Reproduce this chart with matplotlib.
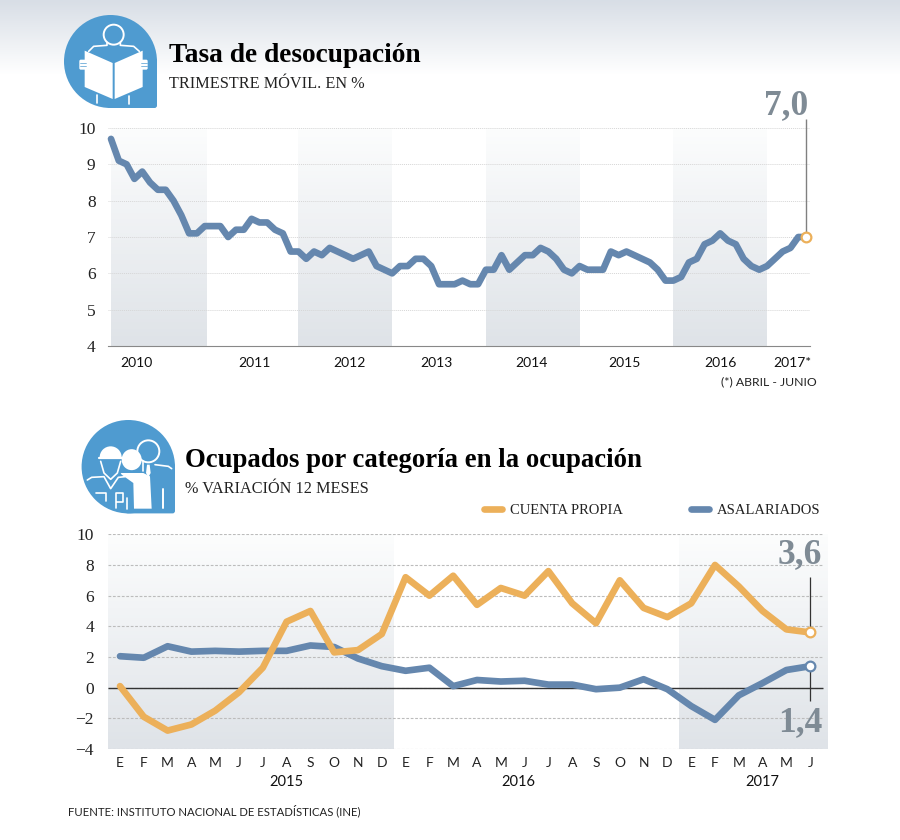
import numpy as np
import matplotlib
matplotlib.use('Agg')
import matplotlib.pyplot as plt
from matplotlib.patches import Circle, Ellipse, FancyBboxPatch, Polygon, Wedge

# tasa de desocupacion, ene 2010 - jun 2017
desocupacion = [
    9.7, 9.1, 9.0, 8.6, 8.8, 8.5, 8.3, 8.3, 8.0, 7.6, 7.1, 7.1,
    7.3, 7.3, 7.3, 7.0, 7.2, 7.2, 7.5, 7.4, 7.4, 7.2, 7.1, 6.6,
    6.6, 6.4, 6.6, 6.5, 6.7, 6.6, 6.5, 6.4, 6.5, 6.6, 6.2, 6.1,
    6.0, 6.2, 6.2, 6.4, 6.4, 6.2, 5.7, 5.7, 5.7, 5.8, 5.7, 5.7,
    6.1, 6.1, 6.5, 6.1, 6.3, 6.5, 6.5, 6.7, 6.6, 6.4, 6.1, 6.0,
    6.2, 6.1, 6.1, 6.1, 6.6, 6.5, 6.6, 6.5, 6.4, 6.3, 6.1, 5.8,
    5.8, 5.9, 6.3, 6.4, 6.8, 6.9, 7.1, 6.9, 6.8, 6.4, 6.2, 6.1,
    6.2, 6.4, 6.6, 6.7, 7.0, 7.0,
]
anios_top = ['2010', '2011', '2012', '2013', '2014', '2015', '2016', '2017*']

# ocupados, ene 2015 - jun 2017
cuenta_propia = [
    0.1, -1.9, -2.8, -2.4, -1.5, -0.3, 1.3, 4.3, 5.0, 2.3, 2.45, 3.5,
    7.2, 6.0, 7.3, 5.4, 6.5, 6.0, 7.6, 5.5, 4.2, 7.0, 5.2, 4.6,
    5.5, 8.0, 6.6, 5.0, 3.8, 3.6,
]
asalariados = [
    2.05, 1.95, 2.7, 2.35, 2.4, 2.35, 2.4, 2.4, 2.75, 2.65, 1.9, 1.4,
    1.1, 1.3, 0.1, 0.5, 0.4, 0.45, 0.2, 0.2, -0.1, 0.0, 0.55, -0.1,
    -1.2, -2.1, -0.5, 0.3, 1.15, 1.4,
]
meses = list('EFMAMJJASOND') * 2 + list('EFMAMJ')
anios_bottom = ['2015', '2016', '2017']

AZUL = '#6587ae'
NARANJA = '#ecb05a'
GRIS = '#7f8b95'
ICONO = '#4f9bd0'
SERIF = 'Liberation Serif'
SANS = 'Lato'
W, H = 900, 840


def px_axes(fig, x0, x1, y0, y1):
    # y0 is the top edge, in picture pixels
    ax = fig.add_axes([x0 / W, 1 - y1 / H, (x1 - x0) / W, (y1 - y0) / H])
    ax.patch.set_alpha(0)
    return ax


def shade(ax, x0, x1, y0, y1):
    grad = np.linspace(0, 1, 64).reshape(-1, 1)
    cmap = matplotlib.colors.LinearSegmentedColormap.from_list('s', ['#fcfdfd', '#dfe3e8'])
    ax.imshow(grad, extent=(x0, x1, y0, y1), origin='upper',
              aspect='auto', cmap=cmap, zorder=0)


def teardrop(ax, cx, cy, r):
    ax.add_patch(Circle((cx, cy), r, color=ICONO, lw=0))
    ax.add_patch(FancyBboxPatch((cx - 3, cy - 3), r + 3, r + 3, boxstyle='round,pad=0,rounding_size=2.5',
                                color=ICONO, lw=0))


def icono_lector(ax):
    teardrop(ax, 110.5, 61.5, 46.5)

    def p(zx, zy):
        return 62 + zx / 3, 13 + zy / 3

    def linea(puntos, lw=1.2, color='white'):
        xs, ys = zip(*[p(*q) for q in puntos])
        ax.plot(xs, ys, color=color, lw=lw, solid_capstyle='round')

    ax.add_patch(Circle(p(155, 65), 10, fc='none', ec='white', lw=1.4))
    linea([(135, 88), (135, 97), (95, 100), (80, 115)])
    linea([(175, 88), (175, 97), (215, 100), (232, 115)])
    ax.add_patch(Polygon([p(68, 113), p(152, 150), p(152, 258), p(68, 222)], color='white', lw=0))
    ax.add_patch(Polygon([p(158, 150), p(242, 113), p(242, 222), p(158, 258)], color='white', lw=0))
    for zx in (52, 236):
        ax.add_patch(FancyBboxPatch(p(zx, 140), 7, 10, boxstyle='round,pad=0,rounding_size=1.5', color='white', lw=0))
        for zy in (149, 160):
            linea([(zx + 1, zy), (zx + 20, zy)], lw=0.5, color=ICONO)
    linea([(105, 245), (105, 270)])
    linea([(200, 248), (200, 272)])


def icono_ocupados(ax):
    teardrop(ax, 128.3, 466.7, 46.7)

    def p(zx, zy):
        return 80 + zx / 3, 418 + zy / 3

    def linea(puntos, lw=1.2):
        xs, ys = zip(*[p(*q) for q in puntos])
        ax.plot(xs, ys, color='white', lw=lw, solid_capstyle='round')

    # persona de atras
    ax.add_patch(Circle(p(205, 100), 11, fc='none', ec='white', lw=1.4))
    linea([(190, 130), (190, 160)])
    linea([(225, 140), (265, 145), (275, 152)])
    ax.add_patch(Polygon([p(201, 140), p(209, 140), p(212, 165), p(205, 178), p(198, 165)], color='white', lw=0))
    linea([(250, 212), (250, 270)], lw=1.4)
    # obrero con casco
    ax.add_patch(Wedge(p(92, 118), 11, 180, 360, color='white', lw=0))
    linea([(57, 121), (127, 121)], lw=1.6)
    linea([(62, 130), (72, 165), (92, 184), (112, 165), (122, 130)])
    linea([(22, 186), (35, 178), (72, 176), (92, 212), (115, 178), (135, 176)])
    linea([(48, 224), (78, 224), (78, 250)])
    linea([(108, 270), (108, 224), (130, 224), (130, 252), (112, 252)])
    linea([(140, 240), (140, 272)])
    # mujer
    ax.add_patch(Ellipse(p(155, 125), 20, 21, color='white', lw=0))
    ax.add_patch(Polygon([p(122, 165), p(190, 165), p(210, 175), p(215, 272), p(162, 272), p(160, 195), p(125, 170)],
                         color='white', lw=0))


def main():
    fig = plt.figure(figsize=(W / 100, H / 100), dpi=100, facecolor='white')

    # fondo, iconos y titulos en pixeles
    bg = fig.add_axes([0, 0, 1, 1])
    cmap = matplotlib.colors.LinearSegmentedColormap.from_list('b', ['#d8dee6', '#ffffff'])
    bg.imshow(np.linspace(0, 1, 64).reshape(-1, 1), extent=(0, W, 75, 0), aspect='auto', cmap=cmap, zorder=0)
    bg.set_xlim(0, W)
    bg.set_ylim(H, 0)
    bg.axis('off')
    icono_lector(bg)
    icono_ocupados(bg)

    bg.text(169, 62, 'Tasa de desocupación', family=SERIF, weight='bold', fontsize=19.7, color='black')
    bg.text(169, 88, 'TRIMESTRE MÓVIL. EN %', family=SERIF, fontsize=11.7, color='#222222')
    bg.text(185, 467, 'Ocupados por categoría en la ocupación', family=SERIF, weight='bold', fontsize=19.3, color='black')
    bg.text(185, 493, '% VARIACIÓN 12 MESES', family=SERIF, fontsize=11.7, color='#222222')
    bg.text(817, 385, '(*) ABRIL - JUNIO', family=SANS, fontsize=8.8, ha='right', color='#222222')
    bg.text(68, 815, 'FUENTE: INSTITUTO NACIONAL DE ESTADÍSTICAS (INE)', family=SANS, fontsize=8.2, color='#222222')

    # grafico de arriba
    ax = px_axes(fig, 108, 810, 128, 346)
    paso = 7.81
    x = np.arange(len(desocupacion))
    xlim = ((108 - 111) / paso, (810 - 111) / paso)
    for a, b in [(0, 12.2), (24, 36), (48, 60), (72, 84)]:
        shade(ax, a, b, 4, 10)
    ax.set_yticks(range(4, 11))
    ax.grid(axis='y', color='#d6d6d6', lw=0.7, ls=(0, (1, 1)), zorder=1)
    ax.set_axisbelow(True)
    ax.plot(x, desocupacion, color=AZUL, lw=4.8, solid_joinstyle='round', solid_capstyle='round', zorder=3, clip_on=False)
    ax.set_xlim(xlim)
    ax.set_ylim(4, 10)
    ax.set_xticks([3.3, 18.4, 30.5, 41.7, 53.8, 65.8, 78, 87.3])
    ax.set_xticklabels(anios_top, family=SANS, fontsize=10, color='#111111')
    ax.tick_params(length=0)
    ax.tick_params(axis='x', pad=8)
    ax.tick_params(axis='y', pad=9)
    for t in ax.get_yticklabels():
        t.set_family(SERIF)
        t.set_fontsize(12.5)
        t.set_color('#222222')
    for s in ('top', 'left', 'right'):
        ax.spines[s].set_visible(False)
    ax.spines['bottom'].set_color('#888888')

    ax.vlines(x[-1], desocupacion[-1], 10.25, color='#808080', lw=1, zorder=4, clip_on=False)
    ax.plot(x[-1], desocupacion[-1], 'o', ms=7, mfc='white', mec=NARANJA, mew=1.6, zorder=5, clip_on=False)
    ax.text(89.25, 10.38, '7,0', family=SERIF, weight='bold', fontsize=25.5, color=GRIS, ha='right', va='baseline')

    # grafico de abajo
    ax2 = px_axes(fig, 108, 828, 534.3, 749)
    paso2 = 23.8
    x2 = np.arange(len(meses))
    xlim2 = ((108 - 120) / paso2, (828 - 120) / paso2)
    for a, b in [(xlim2[0], 11.5), (23.5, xlim2[1])]:
        shade(ax2, a, b, -4, 10)
    fin_grid = (823 - 120) / paso2
    ax2.hlines(range(-4, 11, 2), xlim2[0], fin_grid, color='#bcbcbc', lw=0.8, ls=(0, (2.5, 1.5)), zorder=1)
    ax2.hlines(0, xlim2[0], fin_grid, color='#333333', lw=1, zorder=2)
    l_a, = ax2.plot(x2, asalariados, color=AZUL, lw=4.8, solid_joinstyle='round', solid_capstyle='round', zorder=3, label='ASALARIADOS')
    l_c, = ax2.plot(x2, cuenta_propia, color=NARANJA, lw=4.8, solid_joinstyle='round', solid_capstyle='round', zorder=3.5, label='CUENTA PROPIA')
    ax2.set_xlim(xlim2)
    ax2.set_ylim(-4, 10)
    ax2.set_yticks(range(-4, 11, 2))
    ax2.set_yticklabels([str(v).replace('-', '\u2212') for v in range(-4, 11, 2)], family=SERIF, fontsize=12.5, color='#222222')
    ax2.set_xticks(x2)
    ax2.set_xticklabels(meses, family=SANS, fontsize=10, color='#222222')
    ax2.tick_params(length=0)
    ax2.tick_params(axis='x', pad=6)
    ax2.tick_params(axis='y', pad=10)
    for s in ax2.spines.values():
        s.set_visible(False)

    for xa, anio in zip([7, 16.75, 27], anios_bottom):
        ax2.text(xa, -6.15, anio, family=SANS, fontsize=10.5, color='#111111', ha='center', va='center')

    leg = ax2.legend(handles=[l_c, l_a], ncol=2, frameon=False, loc='center left',
                     bbox_to_anchor=((484 - 108) / 720, 1 + (534.3 - 510) / 214.7),
                     prop={'family': SERIF, 'size': 10.5}, handlelength=1.25, handletextpad=0.5,
                     columnspacing=4.7, borderpad=0, borderaxespad=0)
    for t in leg.get_texts():
        t.set_color('#222222')

    ax2.vlines(x2[-1], cuenta_propia[-1], 7.2, color='#333333', lw=0.9, zorder=4)
    ax2.vlines(x2[-1], -0.85, asalariados[-1], color='#333333', lw=0.9, zorder=4)
    ax2.plot(x2[-1], cuenta_propia[-1], 'o', ms=7, mfc='white', mec=NARANJA, mew=1.6, zorder=5)
    ax2.plot(x2[-1], asalariados[-1], 'o', ms=7, mfc='white', mec=AZUL, mew=1.6, zorder=5)
    ax2.text(29.5, 8.1, '3,6', family=SERIF, weight='bold', fontsize=25.5, color=GRIS, ha='right', va='baseline')
    ax2.text(29.5, -2.8, '1,4', family=SERIF, weight='bold', fontsize=25.5, color=GRIS, ha='right', va='baseline')

    fig.savefig('out.png', dpi=100)


main()
